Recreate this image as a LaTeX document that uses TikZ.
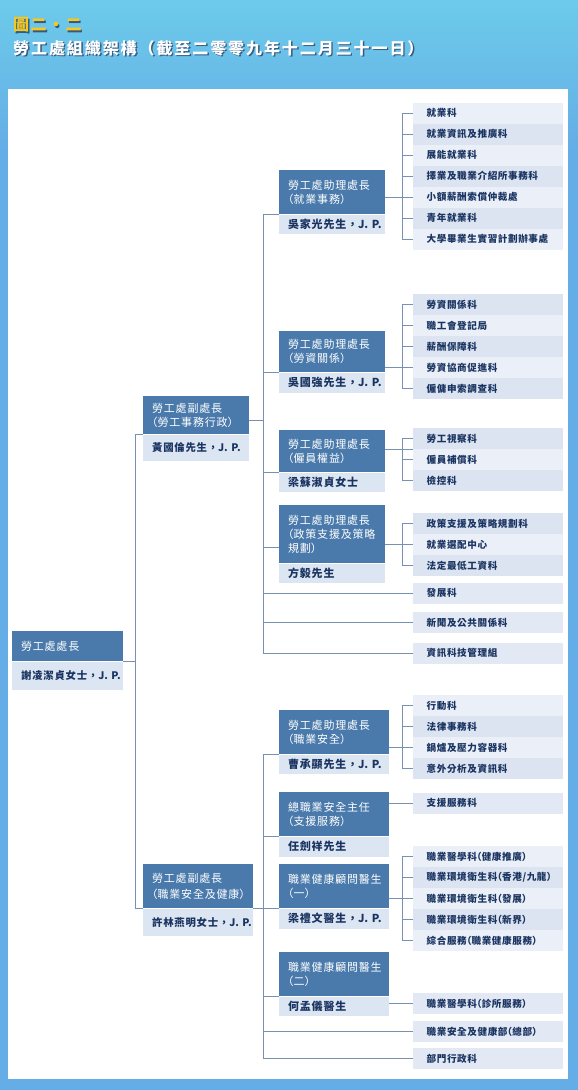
\documentclass[tikz,border=0pt]{standalone}
\usepackage{fontspec}
\usepackage{tikz}
\usetikzlibrary{calc}
\newfontfamily\unitfont{Noto Sans CJK TC}[LetterSpace=6]
\newfontfamily\headfont{Noto Sans CJK TC}[LetterSpace=7]
\newfontfamily\titlefont{Noto Sans CJK TC}[LetterSpace=9]
\newfontfamily\titlewide{Noto Sans CJK TC}[LetterSpace=12]
\newcommand{\lpar}{{\addfontfeature{RawFeature=+halt}（}}
\newcommand{\rpar}{{\addfontfeature{RawFeature=+halt}）}}
\newcommand{\jp}{{\addfontfeature{LetterSpace=2}J.~P.}}
\definecolor{skytop}{RGB}{108,203,234}
\definecolor{skyblue}{RGB}{101,173,230}
\definecolor{headblue}{RGB}{74,122,171}
\definecolor{namegray}{RGB}{220,229,242}
\definecolor{rowlight}{RGB}{234,239,248}
\definecolor{rowdark}{RGB}{220,228,241}
\definecolor{rowmid}{RGB}{227,233,244}
\definecolor{inkblue}{RGB}{26,52,97}
\definecolor{linkgray}{RGB}{120,144,178}
\definecolor{titlegold}{RGB}{248,200,28}
\definecolor{titleshade}{RGB}{52,90,130}

\begin{document}
\begin{tikzpicture}[x=1pt,y=-1pt,
    headbox/.style={fill=headblue, text=white, anchor=north west, align=left,
      inner xsep=9pt, inner ysep=0pt, font=\headfont\fontsize{11}{14}\selectfont},
    namebox/.style={fill=namegray, text=inkblue, anchor=north west, align=left,
      inner xsep=9pt, inner ysep=0pt, font=\headfont\bfseries\fontsize{11}{14}\selectfont},
    topname/.style={namebox, font=\headfont\bfseries\fontsize{10.4}{14}\selectfont},
    unit/.style={fill=rowlight, text=inkblue, anchor=west, align=left,
      text width=123pt, inner xsep=13.5pt, inner ysep=0pt, minimum height=21pt,
      font=\unitfont\bfseries\fontsize{9.6}{12}\selectfont},
    unitdark/.style={unit, fill=rowdark},
    unitmid/.style={unit, fill=rowmid},
    titletext/.style={anchor=west, inner sep=0pt, font=\titlefont\bfseries\fontsize{16}{19}\selectfont},
    link/.style={draw=linkgray, line width=0.8pt}]
  \useasboundingbox (0,0) rectangle (578,1090);
  % backdrop
  \fill[skyblue] (0,0) rectangle (578,1090);
  \shade[top color=skytop, bottom color=skyblue] (0,0) rectangle (578,150);
  \fill[white] (8,89) rectangle (568,1079);
  % title
  \node[titletext, text=titleshade] (ttlAs) at (14.4,26.4) {圖二・二};
  \node[titletext, text=titlegold] (ttlA) at (13,25) {圖二・二};
  \node[titletext, text=titleshade, font=\titlewide\bfseries\fontsize{16}{19}\selectfont] (ttlBs) at (14.4,49.4) {勞工處組織架構（截至二零零九年十二月三十一日）};
  \node[titletext, text=white, font=\titlewide\bfseries\fontsize{16}{19}\selectfont] (ttlB) at (13,48) {勞工處組織架構（截至二零零九年十二月三十一日）};

  % director
  \node[headbox, text width=93pt, minimum height=30pt] (dir) at (12,631) {勞工處處長};
  \node[topname, text width=93pt, minimum height=28pt] (dirn) at (dir.south west) {謝凌潔貞女士，\jp};
  % deputy directors
  \node[headbox, text width=88pt, minimum height=38pt] (depA) at (143,396) {勞工處副處長\\\lpar{}勞工事務行政\rpar};
  \node[topname, text width=88pt, minimum height=26pt] (depAn) at (depA.south west) {黃國倫先生，\jp};
  \node[headbox, text width=92pt, minimum height=44pt, font=\headfont\fontsize{11}{16}\selectfont] (depB) at (143,864) {勞工處副處長\\\lpar{}職業安全及健康\rpar};
  \node[topname, text width=92pt, minimum height=27pt] (depBn) at (depB.south west) {許林燕明女士，\jp};

  % assistant directors (labour administration)
  \node[headbox, text width=88pt, minimum height=44pt] (mgrA) at (279,170) {勞工處助理處長\\\lpar{}就業事務\rpar};
  \node[namebox, text width=88pt, minimum height=19pt] (mgrAn) at (mgrA.south west) {吳家光先生，\jp};
  \node[headbox, text width=88pt, minimum height=41pt] (mgrB) at (279,331) {勞工處助理處長\\\lpar{}勞資關係\rpar};
  \node[namebox, text width=88pt, minimum height=20pt] (mgrBn) at (mgrB.south west) {吳國強先生，\jp};
  \node[headbox, text width=88pt, minimum height=42pt] (mgrC) at (279,430) {勞工處助理處長\\\lpar{}僱員權益\rpar};
  \node[namebox, text width=88pt, minimum height=19pt] (mgrCn) at (mgrC.south west) {梁蘇淑貞女士};
  \node[headbox, text width=88pt, minimum height=58pt] (mgrD) at (279,505) {勞工處助理處長\\\lpar{}政策支援及策略\\規劃\rpar};
  \node[namebox, text width=88pt, minimum height=19pt] (mgrDn) at (mgrD.south west) {方毅先生};
  % assistant directors (occupational safety and health)
  \node[headbox, text width=92pt, minimum height=44pt] (mgrE) at (279,710) {勞工處助理處長\\\lpar{}職業安全\rpar};
  \node[namebox, text width=92pt, minimum height=19pt] (mgrEn) at (mgrE.south west) {曹承顯先生，\jp};
  \node[headbox, text width=92pt, minimum height=44pt] (mgrF) at (279,792) {總職業安全主任\\\lpar{}支援服務\rpar};
  \node[namebox, text width=92pt, minimum height=20pt] (mgrFn) at (mgrF.south west) {任劍祥先生};
  \node[headbox, text width=92pt, minimum height=44pt] (mgrG) at (279,864) {職業健康顧問醫生\\\lpar{}一\rpar};
  \node[namebox, text width=92pt, minimum height=20pt] (mgrGn) at (mgrG.south west) {梁禮文醫生，\jp};
  \node[headbox, text width=92pt, minimum height=44pt] (mgrH) at (279,952) {職業健康顧問醫生\\\lpar{}二\rpar};
  \node[namebox, text width=92pt, minimum height=19pt] (mgrHn) at (mgrH.south west) {何孟儀醫生};

  % sections
  \node[unit] (uA1) at (413,113) {就業科};
  \node[unitdark] (uA2) at (413,134) {就業資訊及推廣科};
  \node[unit] (uA3) at (413,155) {展能就業科};
  \node[unitdark] (uA4) at (413,176) {擇業及職業介紹所事務科};
  \node[unit] (uA5) at (413,197) {小額薪酬索償仲裁處};
  \node[unitdark] (uA6) at (413,218) {青年就業科};
  \node[unit] (uA7) at (413,239) {大學畢業生實習計劃辦事處};
  \node[unitdark] (uB1) at (413,304.5) {勞資關係科};
  \node[unit] (uB2) at (413,325.5) {職工會登記局};
  \node[unitdark] (uB3) at (413,346.5) {薪酬保障科};
  \node[unit] (uB4) at (413,367.5) {勞資協商促進科};
  \node[unitdark] (uB5) at (413,388.5) {僱傭申索調查科};
  \node[unitdark] (uC1) at (413,438.5) {勞工視察科};
  \node[unit] (uC2) at (413,459.5) {僱員補償科};
  \node[unitdark] (uC3) at (413,480.5) {檢控科};
  \node[unitdark] (uD1) at (413,523.5) {政策支援及策略規劃科};
  \node[unit] (uD2) at (413,544.5) {就業選配中心};
  \node[unitdark] (uD3) at (413,565.5) {法定最低工資科};
  \node[unitmid] (uK1) at (413,593) {發展科};
  \node[unitmid] (uK2) at (413,622.5) {新聞及公共關係科};
  \node[unitmid] (uK3) at (413,653) {資訊科技管理組};
  \node[unit] (uE1) at (413,705.5) {行動科};
  \node[unitdark] (uE2) at (413,726.5) {法律事務科};
  \node[unit] (uE3) at (413,747.5) {鍋爐及壓力容器科};
  \node[unitdark] (uE4) at (413,768.5) {意外分析及資訊科};
  \node[unitmid] (uF) at (413,803) {支援服務科};
  \node[unit] (uG1) at (413,856.5) {職業醫學科\lpar{}健康推廣\rpar};
  \node[unitdark] (uG2) at (413,877.5) {職業環境衛生科\lpar{}香港/九龍\rpar};
  \node[unit] (uG3) at (413,898.5) {職業環境衛生科\lpar{}發展\rpar};
  \node[unitdark] (uG4) at (413,919.5) {職業環境衛生科\lpar{}新界\rpar};
  \node[unit] (uG5) at (413,940.5) {綜合服務\lpar{}職業健康服務\rpar};
  \node[unitmid] (uH) at (413,1003.5) {職業醫學科\lpar{}診所服務\rpar};
  \node[unitmid] (uM1) at (413,1031.5) {職業安全及健康部\lpar{}總部\rpar};
  \node[unitmid] (uM2) at (413,1058.5) {部門行政科};

  \coordinate (mainline) at (135,0);
  \coordinate (trunk) at (263,0);
  % director to deputies
  \draw[link] (dir.south east) -- (dir.south east -| mainline);
  \draw[link] (depA.south west) -- (depA.south west -| mainline) -- (mainline |- depB.south west) -- (depB.south west);
  \draw[link] ([yshift=-5pt]depA.east) -- ([yshift=-5pt]depA.east -| trunk);
  \draw[link] (depB.south east) -- (depB.south east -| trunk);
  % labour trunk
  \draw[link] (mgrA.south west) -- (mgrA.south west -| trunk) -- (trunk |- uK3.west) -- (uK3.west);
  \draw[link] (mgrB.south west) -- (mgrB.south west -| trunk);
  \draw[link] (mgrC.south west) -- (mgrC.south west -| trunk);
  \draw[link] ([yshift=16pt]mgrD.south west) -- ([yshift=16pt]mgrD.south west -| trunk);
  \draw[link] (uK1.west) -- (uK1.west -| trunk);
  \draw[link] (uK2.west) -- (uK2.west -| trunk);
  % safety trunk
  \draw[link] (mgrE.south west) -- (mgrE.south west -| trunk) -- (trunk |- uM2.west) -- (uM2.west);
  \draw[link] (mgrF.south west) -- (mgrF.south west -| trunk);
  \draw[link] (mgrG.south west) -- (mgrG.south west -| trunk);
  \draw[link] (mgrH.south west) -- (mgrH.south west -| trunk);
  \draw[link] (uM1.west) -- (uM1.west -| trunk);

  % managers to sections
  \draw[link] (uA1.west) -- ++(-11,0) |- (uA7.west);
  \foreach \i in {2,...,6} \draw[link] (uA\i.west) -- ++(-11,0);
  \draw[link] (mgrA.east |- uA5.west) -- (uA5.west);
  \draw[link] (uB1.west) -- ++(-11,0) |- (uB5.west);
  \foreach \i in {2,3,4} \draw[link] (uB\i.west) -- ++(-11,0);
  \draw[link] (mgrB.east |- uB4.west) -- (uB4.west);
  \draw[link] (uC1.west) -- ++(-11,0) |- (uC3.west);
  \draw[link] (uC2.west) -- ++(-11,0);
  \draw[link] ([yshift=2pt]mgrC.east) -- ([yshift=2pt]mgrC.east -| uC1.west);
  \draw[link] (uD1.west) -- ++(-11,0) |- (uD3.west);
  \draw[link] (mgrD.east |- uD2.west) -- (uD2.west);
  \draw[link] (uE1.west) -- ++(-11,0) |- (uE4.west);
  \foreach \i in {2,3} \draw[link] (uE\i.west) -- ++(-11,0);
  \draw[link] (mgrE.east |- uE3.west) -- (uE3.west);
  \draw[link] (mgrF.east |- uF.west) -- (uF.west);
  \draw[link] (uG1.west) -- ++(-11,0) |- (uG5.west);
  \foreach \i in {2,3,4} \draw[link] (uG\i.west) -- ++(-11,0);
  \draw[link] (mgrG.east |- uG3.west) -- (uG3.west);
  \draw[link] (mgrHn.east |- uH.west) -- (uH.west);
\end{tikzpicture}
\end{document}
